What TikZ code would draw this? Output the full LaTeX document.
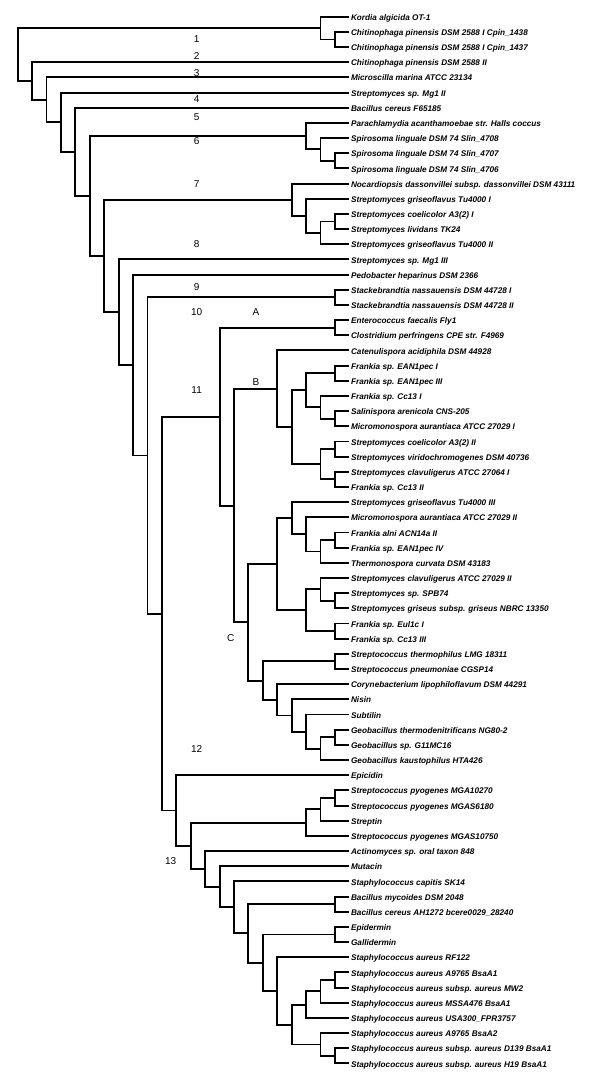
\documentclass[tikz,border=0pt]{standalone}
\usepackage{fontspec}
\setmainfont{Liberation Sans}
\tikzset{
  leaf/.style={anchor=west, inner xsep=1.5pt, inner ysep=0pt, text height=0.72em, text depth=0pt,
    font=\fontsize{8.2}{9}\selectfont\bfseries\itshape},
  clade/.style={line width=1.9pt},
  num/.style={inner sep=0pt, font=\fontsize{10}{12}\selectfont},
}
\begin{document}
\begin{tikzpicture}[x=14.42pt, y=-15.17pt]
        \useasboundingbox (-17.7pt,16.7pt) rectangle (582.3pt,-1065.3pt);
        % Leaves (column 23, one row each)
        \foreach \r/\txt in {0/Kordia algicida OT-1, 1/Chitinophaga pinensis DSM 2588 I Cpin\_1438,
            2/Chitinophaga pinensis DSM 2588 I Cpin\_1437, 3/Chitinophaga pinensis DSM 2588 II,
            4/Microscilla marina ATCC 23134, 5/Streptomyces sp. Mg1 II, 6/Bacillus cereus F65185,
            7/Parachlamydia acanthamoebae str. Halls coccus, 8/Spirosoma linguale DSM 74 Slin\_4708,
            9/Spirosoma linguale DSM 74 Slin\_4707, 10/Spirosoma linguale DSM 74 Slin\_4706,
            11/Nocardiopsis dassonvillei subsp. dassonvillei DSM 43111, 12/Streptomyces griseoflavus Tu4000 I,
            13/Streptomyces coelicolor A3(2) I, 14/Streptomyces lividans TK24,
            15/Streptomyces griseoflavus Tu4000 II, 16/Streptomyces sp. Mg1 III,
            17/Pedobacter heparinus DSM 2366, 18/Stackebrandtia nassauensis DSM 44728 I,
            19/Stackebrandtia nassauensis DSM 44728 II, 20/Enterococcus faecalis Fly1,
            21/Clostridium perfringens CPE str. F4969, 22/Catenulispora acidiphila DSM 44928,
            23/Frankia sp. EAN1pec I, 24/Frankia sp. EAN1pec III, 25/Frankia sp. Cc13 I,
            26/Salinispora arenicola CNS-205, 27/Micromonospora aurantiaca ATCC 27029 I,
            28/Streptomyces coelicolor A3(2) II, 29/Streptomyces viridochromogenes DSM 40736,
            30/Streptomyces clavuligerus ATCC 27064 I, 31/Frankia sp. Cc13 II,
            32/Streptomyces griseoflavus Tu4000 III, 33/Micromonospora aurantiaca ATCC 27029 II,
            34/Frankia alni ACN14a II, 35/Frankia sp. EAN1pec IV, 36/Thermonospora curvata DSM 43183,
            37/Streptomyces clavuligerus ATCC 27029 II, 38/Streptomyces sp. SPB74,
            39/Streptomyces griseus subsp. griseus NBRC 13350, 40/Frankia sp. Eul1c I, 41/Frankia sp. Cc13 III,
            42/Streptococcus thermophilus LMG 18311, 43/Streptococcus pneumoniae CGSP14,
            44/Corynebacterium lipophiloflavum DSM 44291, 45/Nisin, 46/Subtilin,
            47/Geobacillus thermodenitrificans NG80-2, 48/Geobacillus sp. G11MC16,
            49/Geobacillus kaustophilus HTA426, 50/Epicidin, 51/Streptococcus pyogenes MGA10270,
            52/Streptococcus pyogenes MGAS6180, 53/Streptin, 54/Streptococcus pyogenes MGAS10750,
            55/Actinomyces sp. oral taxon 848, 56/Mutacin, 57/Staphylococcus capitis SK14,
            58/Bacillus mycoides DSM 2048, 59/Bacillus cereus AH1272 bcere0029\_28240,
            60/Epidermin, 61/Gallidermin, 62/Staphylococcus aureus RF122,
            63/Staphylococcus aureus A9765 BsaA1, 64/Staphylococcus aureus subsp. aureus MW2,
            65/Staphylococcus aureus MSSA476 BsaA1, 66/Staphylococcus aureus USA300\_FPR3757,
            67/Staphylococcus aureus A9765 BsaA2, 68/Staphylococcus aureus subsp. aureus D139 BsaA1,
            69/Staphylococcus aureus subsp. aureus H19 BsaA1} {
          \node[leaf] (l\r) at (23,\r) {\txt};
        }
        % Internal nodes: name/column/row
        \foreach \n/\k/\r in {kc2/22/1.5, kc1/21/0.75, pa3/22/9.5, pa2/21/8.75, pa1/20/7.875,
            no4/22/13.5, no3/21/14.25, no2/20/13.125, no1/19/12.0625, st/22/18.5, a1/22/20.5,
            b6/22/23.5, b7/22/26.5, b5/21/25.75, b3/20/24.625, b8/22/28.5, b9/22/30.5, b4/21/29.5,
            b2/19/27.0625, b1/18/24.53125,
            c5/22/34.5, c4/21/35.25, c3/20/34.125, c2/19/33.0625, c8/22/38.5, c7/21/37.75,
            c9/22/40.5, c6/20/39.125, c1/18/36.09375,
            d1/22/42.5, d5/22/47.5, d4/21/48.25, d3/20/47.125, d2/19/46.0625, d0/18/45.03125,
            cc2/17/43.765625, cc/16/39.9296875, bc/15/32.23047, abc/14/26.36523,
            py3/22/51.5, py2/21/52.25, py1/20/53.125, s4/22/58.5, s5/22/60.5,
            sa3/22/63.5, sa2/21/64.25, sa1/20/65.125, sb2/22/68.5, sb1/21/67.75,
            n20/19/66.4375, n19/18/64.21875, n18/17/62.35938, n17/16/60.42969, n16/15/58.71484,
            n15/14/57.35742, n14/13/56.17871, n13/12/54.65186, n12/11/52.32593, n11/10/39.34558,
            n10/9/28.92279, n9/8/22.96140, n8/7/19.48070, n7/6/15.77160, n6/5/11.82330,
            n5/4/8.91165, n4/3/6.95582, n3/2/5.47791, n2/1/4.23896, n1/0/2.49448} {
          \coordinate (\n) at (\k,\r);
        }
        % Branches: parent/upper child/lower child
        \foreach \p/\a/\b in {kc2/l1/l2, kc1/l0/kc2, n1/kc1/n2, n2/l3/n3, n3/l4/n4, n4/l5/n5, n5/l6/n6,
            pa3/l9/l10, pa2/l8/pa3, pa1/l7/pa2, n6/pa1/n7,
            no4/l13/l14, no3/no4/l15, no2/l12/no3, no1/l11/no2, n7/no1/n8,
            n8/l16/n9, n9/l17/n10, st/l18/l19, n10/st/n11, a1/l20/l21,
            b6/l23/l24, b7/l26/l27, b5/l25/b7, b3/b6/b5, b8/l28/l29, b9/l30/l31, b4/b8/b9,
            b2/b3/b4, b1/l22/b2,
            c5/l34/l35, c4/c5/l36, c3/l33/c4, c2/l32/c3, c8/l38/l39, c7/l37/c8, c9/l40/l41,
            c6/c7/c9, c1/c2/c6,
            d1/l42/l43, d5/l47/l48, d4/d5/l49, d3/l46/d4, d2/l45/d3, d0/l44/d2,
            cc2/d1/d0, cc/c1/cc2, bc/b1/cc, abc/a1/bc, n11/abc/n12, n12/l50/n13,
            py3/l51/l52, py2/py3/l53, py1/py2/l54, n13/py1/n14,
            n14/l55/n15, n15/l56/n16, n16/l57/n17, s4/l58/l59, n17/s4/n18, s5/l60/l61, n18/s5/n19,
            n19/l62/n20, sa3/l63/l64, sa2/sa3/l65, sa1/sa2/l66, sb2/l68/l69, sb1/l67/sb2,
            n20/sa1/sb1} {
          \draw[clade] (\a) -| (\p) |- (\b);
        }
        % Group labels
        \foreach \t/\x/\y in {1/12.41/1.47, 2/12.41/2.59, 3/12.41/3.69, 4/12.41/5.43, 5/12.41/6.59,
            6/12.41/8.21, 7/12.41/11.03, 8/12.41/15.00, 9/12.41/17.80, 10/12.41/19.49,
            A/16.53/19.49, B/16.53/24.06, 11/12.41/24.61, C/14.77/40.98, 12/12.41/48.29,
            13/10.61/55.66} {
          \node[num] (lbl\t) at (\x,\y) {\t};
        }
\end{tikzpicture}
\end{document}
